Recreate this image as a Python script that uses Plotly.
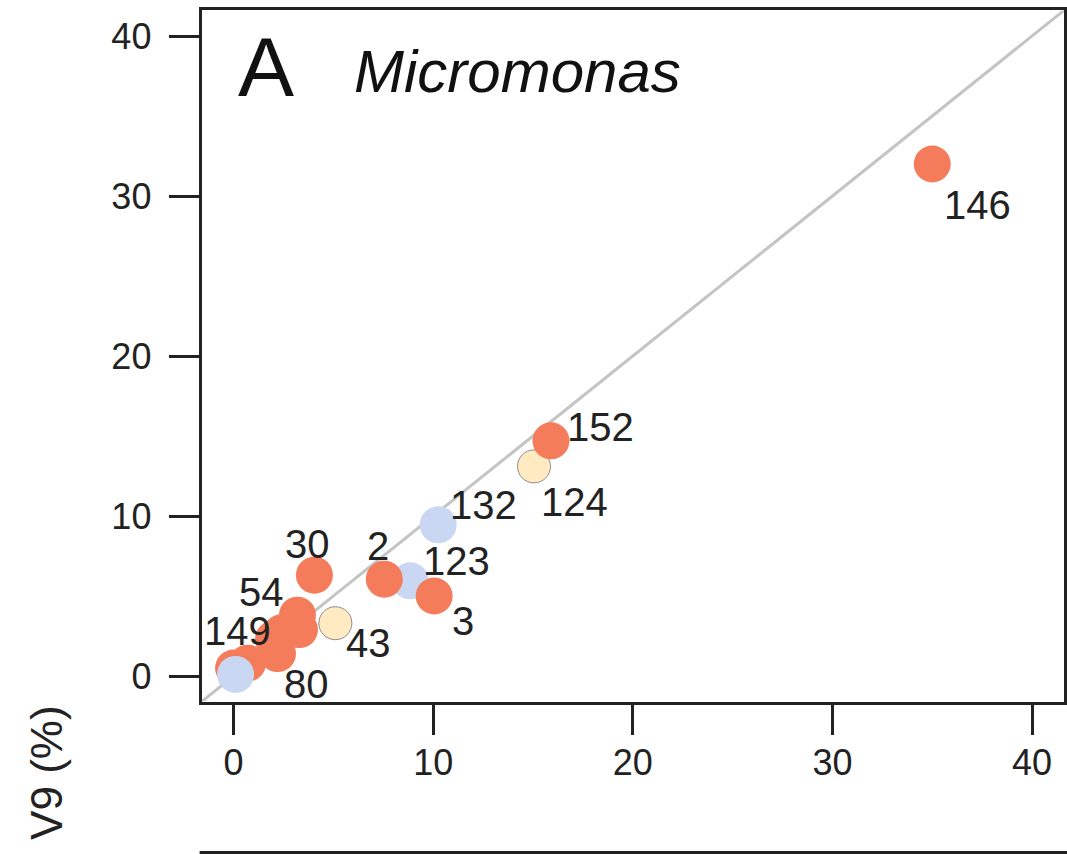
import plotly.graph_objects as go

# ---- data (drawing order matters: later points are drawn on top) ----
sample_ids = ["146", "124", "152", "132", "123", "2", "3", "30", "43",
              "", "54", "", "149", "80", "", "", ""]
v4_pct = [35.0, 15.05, 15.9, 10.25, 8.85, 7.55, 10.05, 4.05, 5.1,
          3.3, 3.2, 2.4, 2.0, 2.2, 0.7, 0.0, 0.1]
v9_pct = [32.0, 13.1, 14.7, 9.45, 5.95, 6.05, 5.0, 6.3, 3.3,
          2.9, 3.8, 2.7, 2.3, 1.4, 0.8, 0.5, 0.1]
group = ["red", "yellow", "red", "blue", "blue", "red", "red", "red", "yellow",
         "red", "red", "red", "red", "red", "red", "red", "blue"]

x_ticks = [0, 10, 20, 30, 40]
y_ticks = [0, 10, 20, 30, 40]
axis_range = [-1.6, 41.6]

# ---- styles ----
fill = {"red": "#F47C5B", "blue": "#C9D7F2", "yellow": "#FFEAC1"}
size = {"red": 37, "blue": 37, "yellow": 33}
edge_w = {"red": 0, "blue": 0, "yellow": 1}
# label offsets in pixels (dx right, dy down) relative to the point
label_offset = {
    "146": (45, 41), "152": (50, -14), "124": (40, 36), "132": (45, -20),
    "123": (46, -20), "2": (-6, -33), "3": (29, 25), "30": (-7, -31),
    "43": (33, 20), "54": (-36, -23), "149": (-36, -8), "80": (29, 30),
}
FONT = "Liberation Sans, Arial, Helvetica, sans-serif"
INK = "#222222"

W, H = 1067, 854
def px(xp):
    return xp / W
def py(yp):
    return 1 - yp / H

fig = go.Figure()

# identity line y = x across the full axis range
fig.add_shape(type="line", xref="x", yref="y",
              x0=axis_range[0], y0=axis_range[0], x1=axis_range[1], y1=axis_range[1],
              line=dict(color="#C4C4C4", width=3), layer="below")

fig.add_trace(go.Scatter(
    x=v4_pct, y=v9_pct, mode="markers",
    marker=dict(color=[fill[g] for g in group],
                size=[size[g] for g in group],
                opacity=1,
                line=dict(color="#8C8C8C", width=[edge_w[g] for g in group])),
    hoverinfo="skip", showlegend=False, cliponaxis=False,
))

for sid, xv, yv in zip(sample_ids, v4_pct, v9_pct):
    if not sid:
        continue
    dx, dy = label_offset[sid]
    fig.add_annotation(x=xv, y=yv, xref="x", yref="y", text=sid, showarrow=False,
                       xshift=dx, yshift=-dy, xanchor="center", yanchor="middle",
                       font=dict(family=FONT, size=40, color=INK))

# panel letter and taxon name
fig.add_annotation(xref="paper", yref="paper", x=px(236), y=py(67), text="A",
                   showarrow=False, xanchor="left", yanchor="middle",
                   font=dict(family=FONT, size=84, color="#111111"))
fig.add_annotation(xref="paper", yref="paper", x=px(353), y=py(72), text="<i>Micromonas</i>",
                   showarrow=False, xanchor="left", yanchor="middle",
                   font=dict(family=FONT, size=60, color="#111111"))

# y-axis title (shared with the lower panel)
fig.add_annotation(xref="paper", yref="paper", x=px(46), y=py(773), text="V9 (%)",
                   showarrow=False, textangle=-90, xanchor="center", yanchor="middle",
                   font=dict(family=FONT, size=44, color=INK))

# top border of the next panel, visible at the bottom edge
fig.add_shape(type="line", xref="paper", yref="paper", x0=px(200), x1=1.01,
              y0=py(852.5), y1=py(852.5), line=dict(color=INK, width=3))

axis_common = dict(range=axis_range, showgrid=False, zeroline=False,
                   showline=True, mirror=True, linecolor=INK, linewidth=3,
                   ticks="outside", ticklen=30, tickwidth=3, tickcolor=INK,
                   tickfont=dict(family=FONT, size=36, color=INK))
fig.update_xaxes(domain=[px(202), px(1066)], tickvals=x_ticks,
                 ticktext=[str(t) for t in x_ticks], ticklabelstandoff=-3, **axis_common)
fig.update_yaxes(domain=[py(701.6), py(10.4)], tickvals=y_ticks,
                 ticktext=[str(t) for t in y_ticks], ticklabelstandoff=10, **axis_common)

fig.update_layout(width=W, height=H, margin=dict(l=0, r=0, t=0, b=0),
                  paper_bgcolor="white", plot_bgcolor="white")

fig.write_html("out.html", config={"displayModeBar": False},
               post_script="document.body.style.margin='0';document.body.style.overflow='hidden';")
